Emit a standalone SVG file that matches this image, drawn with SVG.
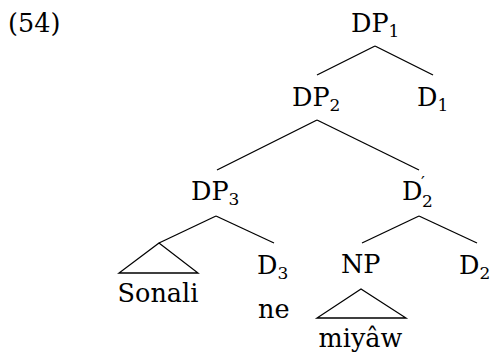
<svg xmlns="http://www.w3.org/2000/svg" width="493" height="356" viewBox="0 0 493 356">
<style>
text{font-family:"DejaVu Serif","Liberation Serif",serif;font-size:25.5px;fill:#000}
.sub{font-size:17px}
.c line,.c polygon{stroke:#000;stroke-width:1.3;fill:none}
</style>
<rect width="493" height="356" fill="#fff"/>
<g id="label54"><text x="8" y="32">(54)</text></g>
<g class="c" id="connectors">
<line x1="375" y1="46" x2="317" y2="75"/>
<line x1="375" y1="46" x2="433" y2="75"/>
<line x1="317" y1="120" x2="217" y2="170"/>
<line x1="317" y1="120" x2="419" y2="170"/>
<line x1="216" y1="216" x2="159" y2="243"/>
<line x1="216" y1="216" x2="274" y2="243"/>
<polygon points="159,243 119,273 198,273"/>
<line x1="419" y1="216" x2="362" y2="243"/>
<line x1="419" y1="216" x2="477" y2="243"/>
<polygon points="361,289 317,318 406,318"/>
</g>
<g id="DP1"><text x="351" y="32">DP<tspan class="sub" dy="5">1</tspan></text></g>
<g id="DP2"><text x="292" y="106">DP<tspan class="sub" dy="5">2</tspan></text></g>
<g id="D1"><text x="417" y="106">D<tspan class="sub" dy="5">1</tspan></text></g>
<g id="DP3"><text x="191" y="200">DP<tspan class="sub" dy="5">3</tspan></text></g>
<g id="D2bar"><text x="402" y="200">D</text><text class="sub" x="421" y="187.5">′</text><text class="sub" x="422" y="207">2</text></g>
<g id="D3"><text x="257" y="274">D<tspan class="sub" dy="5">3</tspan></text></g>
<g id="NP"><text x="341" y="273">NP</text></g>
<g id="D2"><text x="459" y="274">D<tspan class="sub" dy="5">2</tspan></text></g>
<g id="Sonali"><text x="158" y="302" text-anchor="middle">Sonali</text></g>
<g id="ne"><text x="258" y="318">ne</text></g>
<g id="miyaw"><text x="360.5" y="347" text-anchor="middle">miyâw</text></g>
</svg>
